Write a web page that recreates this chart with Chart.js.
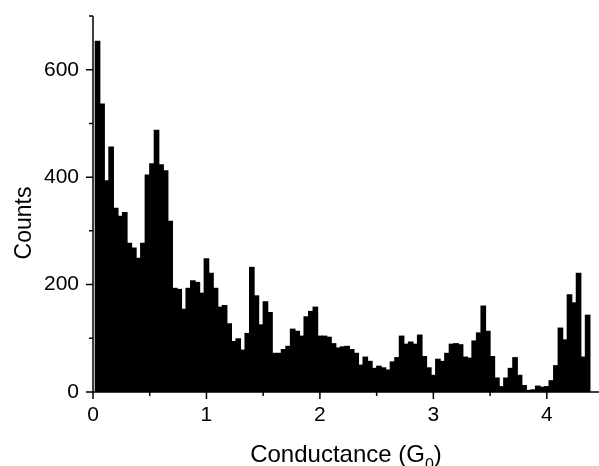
<!DOCTYPE html>
<html>
<head>
<meta charset="utf-8">
<script src="https://cdn.jsdelivr.net/npm/chart.js@4.4.1/dist/chart.umd.min.js"></script>
<style>
  html, body { margin: 0; padding: 0; background: #fff; }
  canvas { display: block; }
</style>
</head>
<body>
<canvas id="hist" width="599" height="466"></canvas>
<script>
// histogram bins (conductance, G0) and counts
const binCenters = [
  0.04, 0.08, 0.12, 0.16, 0.20, 0.24, 0.28, 0.32, 0.36, 0.40,
  0.44, 0.48, 0.52, 0.56, 0.60, 0.64, 0.68, 0.72, 0.76, 0.80,
  0.84, 0.88, 0.92, 0.96, 1.00, 1.04, 1.08, 1.12, 1.16, 1.20,
  1.24, 1.28, 1.32, 1.36, 1.40, 1.44, 1.48, 1.52, 1.56, 1.60,
  1.64, 1.68, 1.72, 1.76, 1.80, 1.84, 1.88, 1.92, 1.96, 2.00,
  2.04, 2.08, 2.12, 2.16, 2.20, 2.24, 2.28, 2.32, 2.36, 2.40,
  2.44, 2.48, 2.52, 2.56, 2.60, 2.64, 2.68, 2.72, 2.76, 2.80,
  2.84, 2.88, 2.92, 2.96, 3.00, 3.04, 3.08, 3.12, 3.16, 3.20,
  3.24, 3.28, 3.32, 3.36, 3.40, 3.44, 3.48, 3.52, 3.56, 3.60,
  3.64, 3.68, 3.72, 3.76, 3.80, 3.84, 3.88, 3.92, 3.96, 4.00,
  4.04, 4.08, 4.12, 4.16, 4.20, 4.24, 4.28, 4.32, 4.36
];
const counts = [
  654, 537, 394, 457, 343, 328, 335, 278, 269, 250,
  278, 405, 426, 488, 424, 413, 319, 194, 192, 155,
  194, 208, 205, 185, 249, 222, 194, 159, 162, 128,
  95, 100, 79, 110, 233, 180, 126, 169, 149, 73,
  73, 80, 86, 118, 114, 105, 141, 151, 159, 105,
  105, 103, 91, 83, 85, 86, 80, 73, 51, 66,
  58, 45, 49, 46, 42, 57, 65, 105, 90, 94,
  90, 107, 67, 46, 32, 62, 58, 73, 90, 91,
  89, 66, 64, 96, 111, 161, 114, 67, 27, 11,
  27, 45, 65, 32, 13, 4, 5, 12, 10, 11,
  22, 50, 120, 98, 182, 167, 222, 66, 144
];
const xRange = [0, 4.46];
const yRange = [0, 700];
const xTitle = "Conductance (G";
const xTitleSub = "0";
const yTitle = "Counts";

const FONT = '"Liberation Sans", Arial, Helvetica, sans-serif';

const points = [];
for (let i = 0; i < binCenters.length; i++) {
  points.push({ x: binCenters[i], y: counts[i] });
}

// axes, tick marks and titles (drawn after the bars)
const axesPlugin = {
  id: "axesPlugin",
  afterDraw(chart) {
    const ctx = chart.ctx;
    const area = chart.chartArea;
    const xs = chart.scales.x;
    const ys = chart.scales.y;
    ctx.save();
    ctx.strokeStyle = "#000";
    ctx.lineWidth = 1.5;

    ctx.beginPath();
    ctx.moveTo(area.left, area.top);
    ctx.lineTo(area.left, area.bottom);
    ctx.moveTo(area.left, area.bottom);
    ctx.lineTo(chart.width, area.bottom);
    ctx.stroke();

    ctx.beginPath();
    ys.ticks.forEach(t => {
      const py = ys.getPixelForValue(t.value);
      const len = t.value % 200 === 0 ? 7 : 4;
      ctx.moveTo(area.left, py);
      ctx.lineTo(area.left - len, py);
    });
    xs.ticks.forEach(t => {
      const px = xs.getPixelForValue(t.value);
      const len = Number.isInteger(t.value) ? 7 : 4;
      ctx.moveTo(px, area.bottom);
      ctx.lineTo(px, area.bottom + len);
    });
    ctx.stroke();

    // x title with subscript
    ctx.fillStyle = "#000";
    ctx.textBaseline = "alphabetic";
    ctx.textAlign = "left";
    const big = "24px " + FONT;
    const small = "16px " + FONT;
    ctx.font = big;
    const w1 = ctx.measureText(xTitle).width;
    const w3 = ctx.measureText(")").width;
    ctx.font = small;
    const w2 = ctx.measureText(xTitleSub).width;
    const cx = (area.left + area.right) / 2;
    let x0 = cx - (w1 + w2 + w3) / 2;
    const base = 461.5;
    ctx.font = big;
    ctx.fillText(xTitle, x0, base);
    ctx.font = small;
    ctx.fillText(xTitleSub, x0 + w1, base + 8);
    ctx.font = big;
    ctx.fillText(")", x0 + w1 + w2, base);

    // y title
    ctx.translate(31, 223);
    ctx.rotate(-Math.PI / 2);
    ctx.textAlign = "center";
    ctx.font = "23px " + FONT;
    ctx.fillText(yTitle, 0, 0);
    ctx.restore();
  }
};

new Chart(document.getElementById("hist"), {
  type: "bar",
  data: {
    datasets: [
      {
        data: points,
        backgroundColor: "#000",
        borderWidth: 0,
        barPercentage: 1.25,
        categoryPercentage: 1
      }
    ]
  },
  options: {
    responsive: false,
    animation: false,
    devicePixelRatio: 1,
    layout: { padding: { top: 16, right: 0, left: 0, bottom: 0 } },
    plugins: {
      legend: { display: false },
      tooltip: { enabled: false }
    },
    scales: {
      x: {
        type: "linear",
        min: xRange[0],
        max: xRange[1],
        offset: false,
        grid: { display: false, drawTicks: false },
        border: { display: false },
        ticks: {
          stepSize: 0.5,
          includeBounds: false,
          autoSkip: false,
          maxRotation: 0,
          color: "#000",
          padding: 11,
          font: { size: 21, family: FONT },
          callback: v => (Number.isInteger(v) ? v : "")
        },
        afterFit(s) {
          s.height = 74;
          s.paddingLeft = 0;
          s.paddingRight = 0;
        }
      },
      y: {
        min: yRange[0],
        max: yRange[1],
        grid: { display: false, drawTicks: false },
        border: { display: false },
        ticks: {
          stepSize: 100,
          color: "#000",
          padding: 14,
          font: { size: 21, family: FONT },
          callback: v => (v % 200 === 0 ? v : "")
        },
        afterFit(s) {
          s.width = 93;
          s.paddingTop = 0;
          s.paddingBottom = 0;
        }
      }
    }
  },
  plugins: [axesPlugin]
});
</script>
</body>
</html>
